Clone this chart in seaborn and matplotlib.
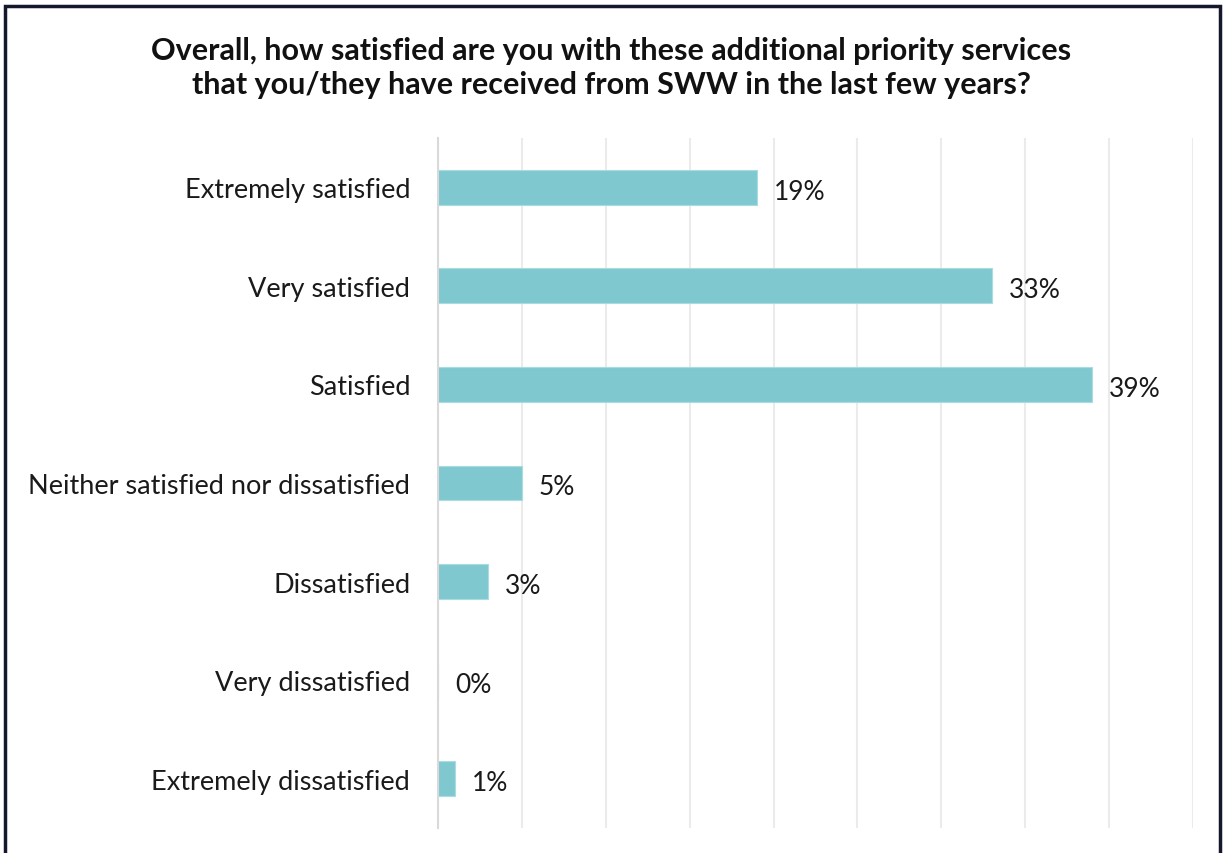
import matplotlib
matplotlib.use("Agg")
import matplotlib.pyplot as plt
from matplotlib.patches import Rectangle
import seaborn as sns
import pandas as pd

categories = [
    "Extremely satisfied",
    "Very satisfied",
    "Satisfied",
    "Neither satisfied nor dissatisfied",
    "Dissatisfied",
    "Very dissatisfied",
    "Extremely dissatisfied",
]
values = [19, 33, 39, 5, 3, 0, 1]
value_labels = ["19%", "33%", "39%", "5%", "3%", "0%", "1%"]
title = ("Overall, how satisfied are you with these additional priority services\n"
         "that you/they have received from SWW in the last few years?")

df = pd.DataFrame({"category": categories, "value": values})

sns.set_theme(style="white")
plt.rcParams["font.family"] = ["Lato", "DejaVu Sans"]

W, H = 1223, 854
fig = plt.figure(figsize=(W / 100, H / 100), dpi=100)
ax = fig.add_axes([438 / W, 1 - 829 / H, (1193 - 438) / W, (829 - 139) / H])

sns.barplot(data=df, x="value", y="category", orient="h", color="#80C8D0",
            width=0.355, saturation=1, edgecolor="#a9dbe0", linewidth=0.8, ax=ax)

ax.set_xlim(0, 45)
ax.set_xticks(range(0, 46, 5))
ax.set_xticklabels([])
ax.tick_params(axis="x", length=0)
ax.tick_params(axis="y", length=0, pad=20, labelsize=19.5, labelcolor="#1a1a1a")
ax.grid(axis="x", color="#ebebeb", linewidth=1.5)
ax.set_axisbelow(True)
for side in ["top", "right", "bottom"]:
    ax.spines[side].set_visible(False)
ax.spines["left"].set_color("#d9d9d9")
ax.spines["left"].set_linewidth(1.5)
ax.set_xlabel("")
ax.set_ylabel("")

for i, (v, lab) in enumerate(zip(values, value_labels)):
    ax.text(v + 1.0, i + 0.04, lab, va="center", ha="left", fontsize=19, color="#1a1a1a")

fig.text(0.5, 1 - 68 / H, title, ha="center", va="center", fontsize=22,
         fontweight="bold", color="#111111", linespacing=1.25)

fig.patches.append(Rectangle((5 / W, -0.05), (1220 - 5) / W, 1 - 7 / H + 0.05,
                             transform=fig.transFigure, fill=False,
                             edgecolor="#15172b", linewidth=2.5))

fig.savefig("out.png", dpi=100, facecolor="white")
